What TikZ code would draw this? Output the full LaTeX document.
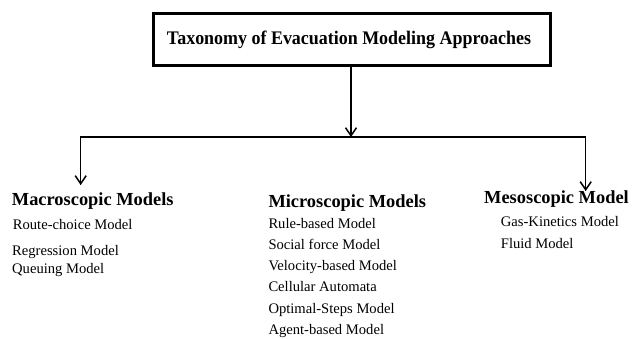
\documentclass[tikz,border=0pt]{standalone}
\usepackage{fontspec}
\setmainfont{Liberation Serif}
\usetikzlibrary{arrows.meta}
\tikzset{
  titlebox/.style={draw, line width=3pt, minimum width=397pt, minimum height=52pt, inner sep=0pt},
  head/.style={anchor=base west, inner sep=0pt, font=\fontsize{18.4}{20}\selectfont\bfseries},
  item/.style={anchor=base west, inner sep=0pt, font=\fontsize{14.6}{16}\selectfont},
  conn/.style={line width=1.5pt},
  arr/.style={conn, -{Straight Barb[length=8pt,width=11pt,line width=1.5pt]}}
}
\begin{document}
\begin{tikzpicture}[x=1pt,y=-1pt]
\useasboundingbox (0,0) rectangle (633,339);
\node[titlebox] (title) at (351.5,39.5) {};
\node[anchor=base, inner sep=0pt, font=\fontsize{19.2}{21}\selectfont\bfseries] (titletext) at (349,45) {\scalebox{0.935}[1]{Taxonomy of Evacuation Modeling Approaches}};

\coordinate (jc) at (351,137);
\coordinate (jl) at (80.7,137);
\coordinate (jr) at (585.7,137);
\coordinate (tl) at (80.7,185);
\coordinate (tr) at (585.7,191);

\draw[arr] (title.south -| jc) -- (jc);
\draw[conn] (tl) -- (jl) -- (jr) -- (tr);
\draw[arr] (jl) -- (tl);
\draw[arr] (jr) -- (tr);

\node[head] (macro) at (11.7,205.7) {Macroscopic Models};
\node[item] (m1) at (12.7,230) {Route-choice Model};
\node[item] (m2) at (12,256) {Regression Model};
\node[item] (m3) at (12,274) {Queuing Model};

\node[head] (micro) at (268.3,207.3) {Microscopic Models};
\node[item] (u1) at (268.3,228.7) {Rule-based Model};
\node[item] (u2) at (268.3,250) {Social force Model};
\node[item] (u3) at (268.3,270.5) {Velocity-based Model};
\node[item] (u4) at (268.3,291.7) {Cellular Automata};
\node[item] (u5) at (268.3,313.3) {Optimal-Steps Model};
\node[item] (u6) at (268.3,334.3) {Agent-based Model};

\node[head] (meso) at (484,204) {Mesoscopic Model};
\node[item] (s1) at (500.7,226.7) {Gas-Kinetics Model};
\node[item] (s2) at (500.7,248.3) {Fluid Model};
\end{tikzpicture}
\end{document}
